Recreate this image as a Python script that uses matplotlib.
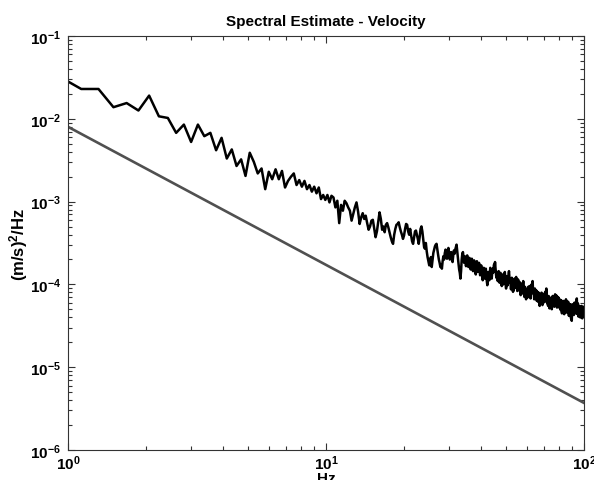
import numpy as np
import matplotlib.pyplot as plt
from matplotlib.ticker import NullFormatter

plt.rcParams['font.family'] = ['Liberation Sans', 'DejaVu Sans']
plt.rcParams['font.weight'] = 'bold'
plt.rcParams['mathtext.fontset'] = 'custom'
plt.rcParams['mathtext.rm'] = 'Liberation Sans:bold'
plt.rcParams['mathtext.it'] = 'Liberation Sans:bold'
plt.rcParams['mathtext.bf'] = 'Liberation Sans:bold'

# measured spectrum: FFT bins of 0.1875 Hz, first bin shown is bin 5
bin_width = 0.1875
first_bin = 5
psd_log10 = [
    -1.50, -1.64, -1.64, -1.86, -1.81, -1.90, -1.72, -1.97, -1.99, -2.17,   # bin 5
    -2.07, -2.28, -2.07, -2.21, -2.17, -2.38, -2.23, -2.48, -2.37, -2.57,   # bin 15
    -2.49, -2.69, -2.41, -2.52, -2.66, -2.60, -2.85, -2.64, -2.73, -2.61,   # bin 25
    -2.73, -2.63, -2.83, -2.75, -2.70, -2.66, -2.80, -2.74, -2.82, -2.75,   # bin 35
    -2.85, -2.80, -2.88, -2.82, -2.90, -2.83, -2.97, -2.92, -2.98, -2.92,   # bin 45
    -3.01, -2.93, -2.95, -3.07, -2.99, -3.26, -3.04, -3.11, -2.99, -3.02,   # bin 55
    -3.07, -3.11, -3.23, -3.15, -3.07, -3.01, -3.12, -3.27, -3.19, -3.14,   # bin 65
    -3.21, -3.17, -3.26, -3.34, -3.30, -3.23, -3.22, -3.33, -3.43, -3.36,   # bin 75
    -3.24, -3.13, -3.21, -3.34, -3.30, -3.37, -3.28, -3.26, -3.31, -3.37,   # bin 85
    -3.43, -3.48, -3.51, -3.40, -3.33, -3.28, -3.27, -3.25, -3.31, -3.36,   # bin 95
    -3.40, -3.45, -3.41, -3.33, -3.27, -3.28, -3.36, -3.40, -3.33, -3.41,   # bin 105
    -3.48, -3.51, -3.43, -3.36, -3.35, -3.40, -3.45, -3.51, -3.43, -3.33,   # bin 115
    -3.30, -3.36, -3.45, -3.55, -3.57, -3.50, -3.60, -3.67, -3.72, -3.77,   # bin 125
    -3.72, -3.67, -3.79, -3.70, -3.62, -3.58, -3.54, -3.52, -3.51, -3.58,   # bin 135
    -3.64, -3.70, -3.74, -3.79, -3.76, -3.81, -3.72, -3.66, -3.70, -3.62,   # bin 145
    -3.58, -3.64, -3.69, -3.60, -3.56, -3.62, -3.70, -3.66, -3.61, -3.67,   # bin 155
    -3.73, -3.65, -3.59, -3.63, -3.58, -3.55, -3.52, -3.60, -3.68, -3.75,   # bin 165
    -3.82, -3.86, -3.93, -3.84, -3.70, -3.63, -3.61, -3.68, -3.74, -3.66,   # bin 175
    -3.70, -3.78, -3.72, -3.65, -3.71, -3.79, -3.74, -3.68, -3.76, -3.82,   # bin 185
    -3.73, -3.69, -3.77, -3.84, -3.78, -3.71, -3.75, -3.83, -3.88, -3.79,   # bin 195
    -3.72, -3.77, -3.85, -3.80, -3.74, -3.82, -3.89, -3.84, -3.77, -3.82,   # bin 205
    -3.90, -3.95, -3.86, -3.80, -3.85, -3.93, -3.88, -3.81, -3.87, -3.96,   # bin 215
    -4.01, -3.92, -3.85, -3.89, -3.95, -3.87, -3.80, -3.84, -3.88, -3.93,   # bin 225
    -3.86, -3.81, -3.86, -3.80, -3.76, -3.82, -3.73, -3.80, -3.87, -3.92,   # bin 235
    -3.85, -3.89, -3.96, -3.90, -3.84, -3.91, -3.98, -3.93, -3.86, -3.90,   # bin 245
    -3.97, -4.02, -3.94, -3.88, -3.93, -4.00, -3.95, -3.89, -3.85, -3.91,   # bin 255
    -3.99, -4.05, -3.96, -3.90, -3.94, -4.01, -3.96, -3.88, -3.84, -3.92,   # bin 265
    -3.98, -3.93, -4.00, -4.06, -3.98, -3.92, -3.97, -4.03, -4.09, -4.01,   # bin 275
    -4.07, -3.99, -3.93, -3.98, -4.04, -3.97, -3.91, -3.96, -4.02, -4.08,   # bin 285
    -4.00, -3.94, -4.01, -4.07, -4.03, -3.97, -4.02, -4.08, -4.13, -4.05,   # bin 295
    -3.99, -4.04, -4.11, -4.06, -4.00, -3.96, -4.03, -4.10, -4.15, -4.08,   # bin 305
    -4.03, -4.09, -4.14, -4.18, -4.12, -4.06, -4.10, -4.16, -4.09, -4.03,   # bin 315
    -4.07, -4.13, -4.08, -4.02, -4.06, -4.12, -4.17, -4.10, -4.04, -4.00,   # bin 325
    -4.06, -3.99, -3.96, -4.04, -4.11, -4.07, -4.13, -4.18, -4.11, -4.05,   # bin 335
    -4.10, -4.16, -4.12, -4.07, -4.13, -4.20, -4.14, -4.09, -4.15, -4.21,   # bin 345
    -4.16, -4.10, -4.14, -4.22, -4.26, -4.18, -4.12, -4.17, -4.23, -4.15,   # bin 355
    -4.10, -4.14, -4.20, -4.25, -4.18, -4.12, -4.16, -4.22, -4.17, -4.11,   # bin 365
    -4.15, -4.21, -4.14, -4.09, -4.13, -4.08, -4.05, -4.11, -4.17, -4.23,   # bin 375
    -4.16, -4.20, -4.26, -4.19, -4.14, -4.18, -4.24, -4.29, -4.21, -4.16,   # bin 385
    -4.20, -4.26, -4.22, -4.17, -4.23, -4.30, -4.24, -4.18, -4.14, -4.19,   # bin 395
    -4.25, -4.20, -4.15, -4.21, -4.27, -4.22, -4.16, -4.12, -4.18, -4.24,   # bin 405
    -4.19, -4.13, -4.17, -4.23, -4.28, -4.21, -4.15, -4.20, -4.26, -4.21,   # bin 415
    -4.16, -4.22, -4.28, -4.23, -4.18, -4.24, -4.19, -4.25, -4.31, -4.24,   # bin 425
    -4.19, -4.23, -4.29, -4.35, -4.27, -4.21, -4.26, -4.32, -4.26, -4.20,   # bin 435
    -4.25, -4.31, -4.36, -4.28, -4.22, -4.27, -4.33, -4.28, -4.22, -4.18,   # bin 445
    -4.24, -4.30, -4.34, -4.27, -4.21, -4.26, -4.32, -4.27, -4.21, -4.26,   # bin 455
    -4.33, -4.38, -4.30, -4.24, -4.29, -4.35, -4.30, -4.24, -4.29, -4.36,   # bin 465
    -4.41, -4.33, -4.38, -4.44, -4.35, -4.28, -4.24, -4.30, -4.36, -4.31,   # bin 475
    -4.25, -4.30, -4.37, -4.32, -4.26, -4.22, -4.28, -4.34, -4.29, -4.23,   # bin 485
    -4.28, -4.35, -4.30, -4.24, -4.20, -4.17, -4.24, -4.31, -4.36, -4.29,   # bin 495
    -4.23, -4.28, -4.34, -4.39, -4.31, -4.26, -4.32, -4.37, -4.33, -4.28,   # bin 505
    -4.34, -4.40, -4.33, -4.27, -4.31, -4.37, -4.32, -4.26, -4.30, -4.36,   # bin 515
    -4.41, -4.33, -4.28, -4.32, -4.38, -4.33, -4.27, -4.31, -4.36, -4.30,   # bin 525
]

# reference slope line, read at both ends of the plot
model_freq = [1.0, 100.0]
model_psd = [8.0e-3, 3.7e-6]

freq = (first_bin + np.arange(len(psd_log10))) * bin_width
psd = 10.0 ** np.array(psd_log10)

fig = plt.figure(figsize=(5.94, 4.81), dpi=100)
ax = fig.add_axes([0.1145, 0.0624, 0.8687, 0.8607])

ax.loglog(model_freq, model_psd, color='#505050', lw=1.9)
ax.loglog(freq, psd, color='black', lw=1.8)

ax.set_xlim(1, 100)
ax.set_ylim(1e-6, 1e-1)
ax.xaxis.set_minor_formatter(NullFormatter())
ax.yaxis.set_minor_formatter(NullFormatter())
ax.tick_params(which='both', direction='in', top=True, right=True,
               labelsize=11, width=0.8, color='#333333')
ax.tick_params(axis='y', which='major', pad=5)
ax.tick_params(axis='x', which='major', pad=2.5)
ax.tick_params(which='major', length=5)
ax.tick_params(which='minor', length=3)
for s in ax.spines.values():
    s.set_color('#333333')

ax.set_title('Spectral Estimate - Velocity', fontsize=11, fontweight='bold', pad=8)
ax.set_ylabel('(m/s)$^2$/Hz', fontsize=12, fontweight='bold', labelpad=0)
ax.set_xlabel('Hz', fontsize=11, fontweight='bold', labelpad=-1)

fig.savefig('out.png', dpi=100)
